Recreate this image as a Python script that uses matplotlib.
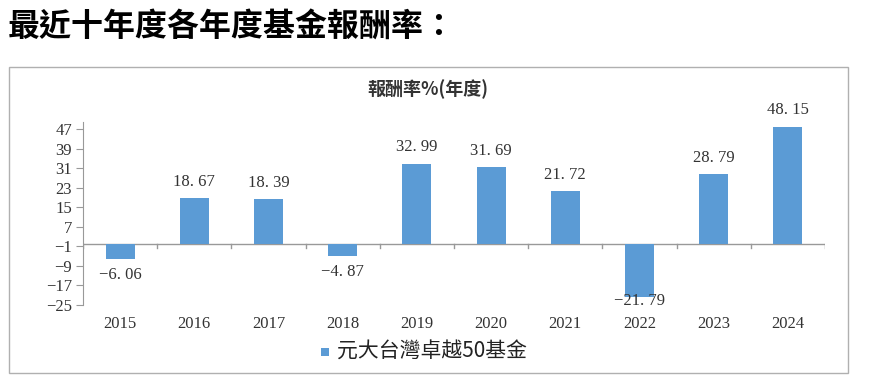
import matplotlib.pyplot as plt
from matplotlib.patches import Rectangle

# Datos del gráfico
anios = ['2015', '2016', '2017', '2018', '2019', '2020', '2021', '2022', '2023', '2024']
rendimientos = [-6.06, 18.67, 18.39, -4.87, 32.99, 31.69, 21.72, -21.79, 28.79, 48.15]
ticks_y = [-25, -17, -9, -1, 7, 15, 23, 31, 39, 47]

serif = ['Liberation Serif', 'DejaVu Serif']
cjk = ['Noto Sans CJK TC', 'DejaVu Sans']

fig = plt.figure(figsize=(8.82, 3.77), dpi=100)

# Marco exterior del gráfico
fig.patches.append(Rectangle((9 / 882, 1 - 373 / 377), (848 - 9) / 882, (373 - 67) / 377,
                             transform=fig.transFigure, fill=False, edgecolor='#b0b0b0', linewidth=1))

fig.text(8 / 882, 1 - 27 / 377, '最近十年度各年度基金報酬率：', family=cjk, fontsize=23,
         fontweight='bold', va='center', ha='left')

ax = fig.add_axes([83 / 882, 1 - 305 / 377, (825 - 83) / 882, (305 - 122) / 377])

x = list(range(len(anios)))
ax.bar(x, rendimientos, width=0.39, color='#5B9BD5', zorder=3)

# Etiquetas de valores (las negativas no salen del área de trazado)
for xi, v in zip(x, rendimientos):
    texto = f'{v:.2f}'.replace('.', '. ').replace('-', '−')
    if v >= 0:
        y_txt = v + 6.6
    else:
        y_txt = max(v - 6.7, -23.2)
    ax.text(xi, y_txt, texto, ha='center', va='center', family=serif, fontsize=12,
            color='#333333', zorder=4)

ax.set_xlim(-0.5, len(anios) - 0.5)
ax.set_ylim(-25, 50)
ax.set_yticks(ticks_y)
ax.set_yticklabels([str(t).replace('-', '−') for t in ticks_y], family=serif, fontsize=12, color='#333333')

for s in ['top', 'right', 'bottom']:
    ax.spines[s].set_visible(False)
ax.spines['left'].set_color('#999999')
ax.tick_params(axis='y', direction='out', length=5, color='#999999', pad=3)

# Eje de categorías sobre el cero
ax.axhline(0, color='#999999', linewidth=1, zorder=2)
for b in [i - 0.5 for i in range(len(anios) + 1)]:
    ax.plot([b, b], [0, -1.6], color='#999999', linewidth=1, zorder=2)

ax.set_xticks(x)
ax.set_xticklabels(anios, family=serif, fontsize=12, color='#333333')
ax.tick_params(axis='x', length=0, pad=8)

fig.text(428 / 882, 1 - 89 / 377, '報酬率%(年度)', family=cjk, fontsize=13, fontweight='bold',
         ha='center', va='center', color='#333333')

# Leyenda
fig.patches.append(Rectangle((321 / 882, 1 - 356 / 377), 8 / 882, 8 / 377,
                             transform=fig.transFigure, facecolor='#5B9BD5', edgecolor='none'))
fig.text(337 / 882, 1 - 352 / 377, '元大台灣卓越50基金', family=cjk, fontsize=15,
         ha='left', va='center', color='#222222')

plt.savefig('out.png', dpi=100)
